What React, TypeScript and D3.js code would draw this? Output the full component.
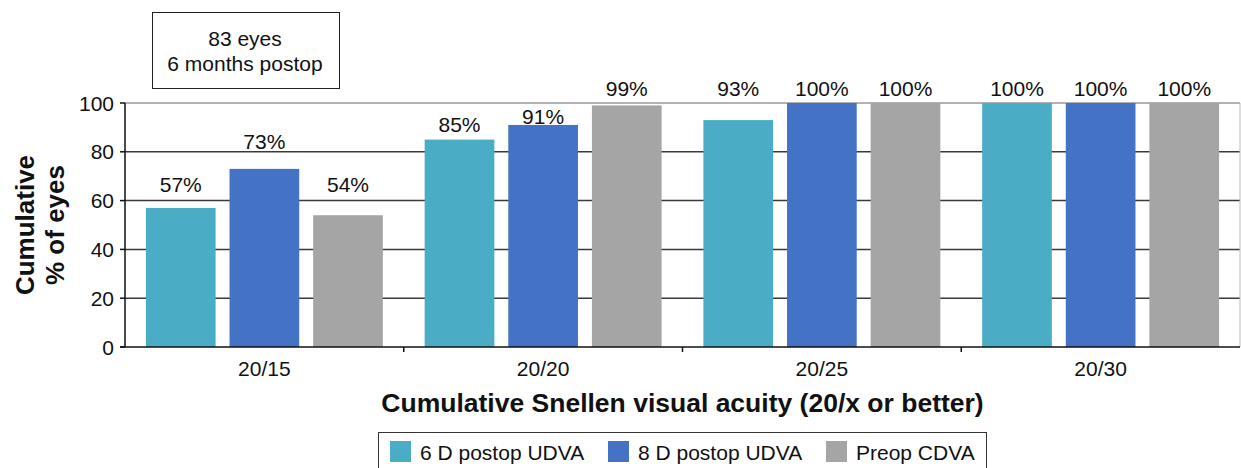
import React from "react";
import * as d3 from "d3";

const categories = ["20/15", "20/20", "20/25", "20/30"];
const seriesNames = ["6 D postop UDVA", "8 D postop UDVA", "Preop CDVA"];
const udva6 = [57, 85, 93, 100];
const udva8 = [73, 91, 100, 100];
const cdvaPreop = [54, 99, 100, 100];
// where each value label sits, in y-axis units
const labelAnchor6 = [66.4, 91, 106, 106];
const labelAnchor8 = [84.4, 94.4, 106, 106];
const labelAnchorPre = [66.4, 106, 106, 106];
const yTicks = [0, 20, 40, 60, 80, 100];
const colors = ["#4BACC6", "#4472C4", "#A5A5A5"];

const W = 1241;
const H = 468;
const FONT = "'Liberation Sans', Arial, sans-serif";

export default function App() {
  const values = [udva6, udva8, cdvaPreop];
  const anchors = [labelAnchor6, labelAnchor8, labelAnchorPre];
  const x0 = d3.scaleBand<string>().domain(categories).range([125, 1240]).padding(0);
  const x1 = d3
    .scaleBand<string>()
    .domain(seriesNames)
    .range([0, x0.bandwidth()])
    .paddingInner(14 / 84)
    .paddingOuter(0.25);
  const y = d3.scaleLinear().domain([0, 100]).range([347, 103]);
  const [xl, xr] = x0.range();

  return (
    <svg
      width={W}
      height={H}
      style={{ position: "absolute", left: 0, top: 0, background: "#fff" }}
      fontFamily={FONT}
    >
      <rect x={0} y={0} width={W} height={H} fill="#fff" />
      {/* gridlines */}
      {yTicks
        .filter((t) => t > 0 && t < 100)
        .map((t) => (
          <line key={t} x1={xl} x2={xr} y1={y(t)} y2={y(t)} stroke="#3a3a3a" strokeWidth={1.5} />
        ))}
      <line x1={xl} x2={xr} y1={y(100)} y2={y(100)} stroke="#999" strokeWidth={1.5} />
      <line x1={xr} x2={xr} y1={y(100)} y2={y(0)} stroke="#bbb" strokeWidth={1} />
      {/* bars */}
      {categories.map((c, i) => (
        <g key={c}>
          {seriesNames.map((s, j) => (
            <rect
              key={s}
              x={(x0(c) as number) + (x1(s) as number)}
              y={y(values[j][i])}
              width={x1.bandwidth()}
              height={y(0) - y(values[j][i])}
              fill={colors[j]}
            />
          ))}
          {seriesNames.map((s, j) => (
            <text
              key={s + "l"}
              x={(x0(c) as number) + (x1(s) as number) + x1.bandwidth() / 2}
              y={y(anchors[j][i])}
              textAnchor="middle"
              dominantBaseline="central"
              fontSize={21}
              fill="#111"
            >
              {values[j][i]}%
            </text>
          ))}
        </g>
      ))}
      {/* axes */}
      <line x1={xl} x2={xl} y1={y(100)} y2={y(0)} stroke="#111" strokeWidth={1.5} />
      <line x1={xl - 5} x2={xr} y1={y(0)} y2={y(0)} stroke="#111" strokeWidth={1.5} />
      {yTicks.map((t) => (
        <g key={"yt" + t}>
          <line x1={xl - 5} x2={xl} y1={y(t)} y2={y(t)} stroke="#111" strokeWidth={1.5} />
          <text
            x={xl - 11}
            y={y(t)}
            textAnchor="end"
            dominantBaseline="central"
            fontSize={21}
            fill="#111"
          >
            {t}
          </text>
        </g>
      ))}
      {categories.map((c, i) => (
        <g key={"xt" + c}>
          {i > 0 && (
            <line
              x1={x0(c) as number}
              x2={x0(c) as number}
              y1={y(0)}
              y2={y(0) + 5}
              stroke="#111"
              strokeWidth={1.5}
            />
          )}
          <text
            x={(x0(c) as number) + x0.bandwidth() / 2}
            y={368}
            textAnchor="middle"
            dominantBaseline="central"
            fontSize={21}
            fill="#111"
          >
            {c}
          </text>
        </g>
      ))}
      {/* axis titles */}
      <text
        x={(xl + xr) / 2}
        y={403}
        textAnchor="middle"
        dominantBaseline="central"
        fontSize={26.5}
        fontWeight="bold"
        fill="#111"
      >
        Cumulative Snellen visual acuity (20/x or better)
      </text>
      <g transform={`translate(25,225) rotate(-90)`}>
        <text textAnchor="middle" dominantBaseline="central" fontSize={26} fontWeight="bold" fill="#111">
          Cumulative
        </text>
      </g>
      <g transform={`translate(55,225) rotate(-90)`}>
        <text textAnchor="middle" dominantBaseline="central" fontSize={26} fontWeight="bold" fill="#111">
          % of eyes
        </text>
      </g>
      {/* annotation box */}
      <rect x={152.5} y={12.5} width={187} height={76} fill="#fff" stroke="#222" strokeWidth={1} />
      <text x={245} y={38} textAnchor="middle" dominantBaseline="central" fontSize={21} fill="#111">
        83 eyes
      </text>
      <text x={245} y={63} textAnchor="middle" dominantBaseline="central" fontSize={21} fill="#111">
        6 months postop
      </text>
      {/* legend */}
      <rect x={378.5} y={432.5} width={608} height={50} fill="#fff" stroke="#333" strokeWidth={1} />
      {seriesNames.map((s, j) => {
        const lx = [390, 608, 826][j];
        return (
          <g key={"lg" + s}>
            <rect x={lx} y={441} width={21} height={21} fill={colors[j]} />
            <text x={lx + 30} y={452} dominantBaseline="central" fontSize={21} fill="#111">
              {s}
            </text>
          </g>
        );
      })}
    </svg>
  );
}
